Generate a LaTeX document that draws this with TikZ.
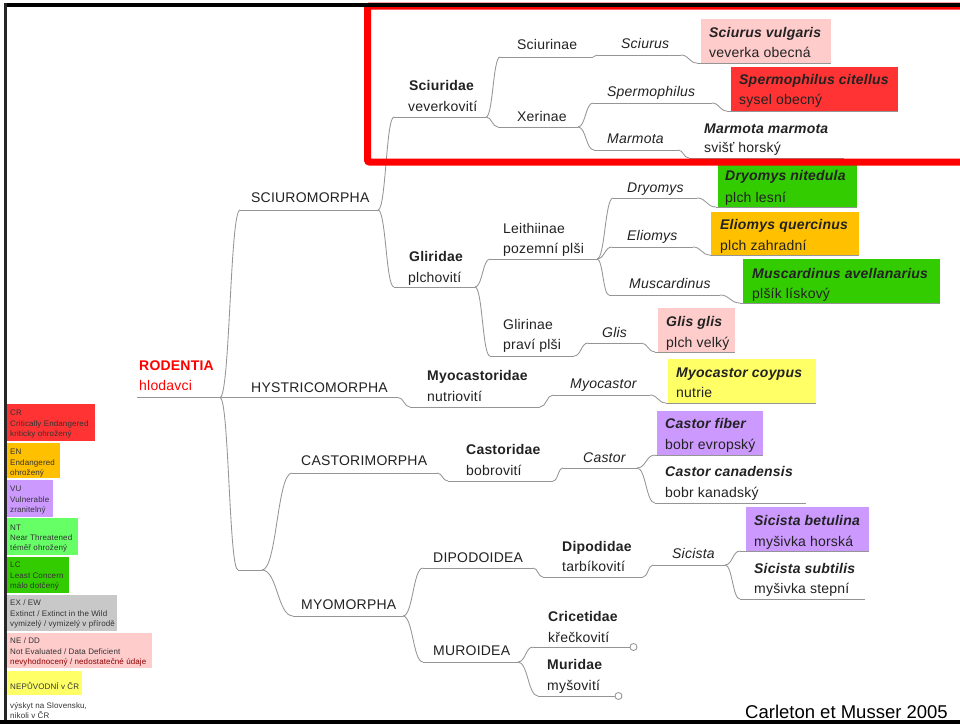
\documentclass[tikz,border=0pt]{standalone}
\usepackage{fontspec}
\setmainfont{Liberation Sans}[LetterSpace=1.5]
\newfontfamily\citefont{Liberation Sans}
\usetikzlibrary{calc}
\definecolor{txt}{HTML}{222222}
\definecolor{lnk}{HTML}{959595}
\definecolor{cCR}{HTML}{FF3333}
\definecolor{cEN}{HTML}{FFC000}
\definecolor{cVU}{HTML}{CC99FF}
\definecolor{cNT}{HTML}{66FF66}
\definecolor{cLC}{HTML}{33CC00}
\definecolor{cEX}{HTML}{C8C8C8}
\definecolor{cNE}{HTML}{FFCCCC}
\definecolor{cYE}{HTML}{FFFF66}
\definecolor{frame}{HTML}{FF0000}
\newcommand\mytn[4]{\coordinate (#1-s) at (#2,#4); \coordinate (#1-e) at (#3,#4); \draw[link] (#1-s) -- (#1-e);}
\newcommand\myconn[2]{\draw[link] let \p1=(#1-e), \p2=(#2-s), \p3=($(#1-e)!.5!(#2-s)$) in (#1-e) .. controls (\x3,\y1) and (\x3,\y2) .. (#2-s);}
\newcommand\mylab[5]{\node[#4] (#1) at (#2,#3+5) {#5};}
\newcommand\legline[3]{\node[leg] (#1) at (10,#2+3) {#3};}
\begin{document}
\begin{tikzpicture}[x=1pt,y=-1pt,
  link/.style={draw=lnk, line width=0.85pt},
  lbl/.style={anchor=base west, inner sep=0pt, text=txt, font=\fontsize{14}{16}\selectfont},
  bf/.style={lbl, font=\fontsize{14}{16}\selectfont\bfseries},
  it/.style={lbl, font=\fontsize{14}{16}\selectfont\itshape},
  bi/.style={lbl, font=\fontsize{14}{16}\selectfont\bfseries\itshape},
  leg/.style={anchor=base west, inner sep=0pt, text=black!80, font=\fontsize{8}{9}\selectfont}]
\useasboundingbox (0,0) rectangle (960,724);
\fill[white] (0,0) rectangle (960,724);

% ---------- legend ----------
\fill[cCR] (7,404) rectangle (95,441);
\legline{lcr1}{412}{CR}\legline{lcr2}{423}{Critically Endangered}\legline{lcr3}{433}{kriticky ohrožený}
\fill[cEN] (7,443) rectangle (60,478);
\legline{len1}{451}{EN}\legline{len2}{462}{Endangered}\legline{len3}{472}{ohrožený}
\fill[cVU] (7,480) rectangle (53,517);
\legline{lvu1}{488}{VU}\legline{lvu2}{499}{Vulnerable}\legline{lvu3}{509}{zranitelný}
\fill[cNT] (7,518) rectangle (78,555);
\legline{lnt1}{527}{NT}\legline{lnt2}{537}{Near Threatened}\legline{lnt3}{547}{téměř ohrožený}
\fill[cLC] (7,557) rectangle (69,593);
\legline{llc1}{564}{LC}\legline{llc2}{575}{Least Concern}\legline{llc3}{585}{málo dotčený}
\fill[cEX] (7,595) rectangle (117,631);
\legline{lex1}{602}{EX / EW}\legline{lex2}{613}{Extinct / Extinct in the Wild}\legline{lex3}{623}{vymizelý / vymizelý v přírodě}
\fill[cNE] (7,633) rectangle (152,668);
\legline{lne1}{640}{NE / DD}\legline{lne2}{651}{Not Evaluated / Data Deficient}
\node[leg, text=red!55!black] (lne3) at (10,661+3) {nevyhodnocený / nedostatečné údaje};
\fill[cYE] (7,671) rectangle (82,695);
\legline{lye1}{686}{NEPŮVODNÍ v ČR}
\legline{lsk1}{705}{výskyt na Slovensku,}\legline{lsk2}{715}{nikoli v ČR}

% ---------- coloured species boxes ----------
\fill[cNE] (701,19) rectangle (831,63);
\fill[cCR] (731,67) rectangle (898,111);
\fill[cLC] (718,164) rectangle (857,207);
\fill[cEN] (711,212) rectangle (859,255);
\fill[cLC] (743,259) rectangle (940,303);
\fill[cNE] (658,308) rectangle (735,352);
\fill[cYE] (668,359) rectangle (816,403);
\fill[cVU] (657,411) rectangle (763,455);
\fill[cVU] (746,507) rectangle (869,551);

% ---------- underlines ----------
\mytn{root}{137}{220}{397.5}
\mytn{scm}{240}{378}{210}
\mytn{hym}{222}{398}{397.5}
\mytn{hid}{238}{262}{570}
\mytn{cam}{292}{437}{473}
\mytn{mym}{293}{403}{616}
\mytn{scd}{394}{486}{117}
\mytn{gld}{394}{475}{287}
\mytn{scn}{500}{593}{57}
\mytn{xen}{498}{578}{127}
\mytn{scg}{597}{681}{55}
\mytn{scv}{697}{831}{63}
\mytn{spg}{593}{712}{103}
\mytn{spc}{727}{898}{111}
\mytn{mag}{594}{678}{150}
\mytn{mam}{689}{844}{158}
\mytn{lei}{490}{597}{259}
\mytn{gln}{490}{574}{356}
\mytn{drg}{613}{697}{198}
\mytn{drn}{716}{857}{207}
\mytn{elg}{612}{693}{247}
\mytn{elq}{710}{859}{255}
\mytn{mug}{609}{720}{295}
\mytn{mua}{740}{940}{303}
\mytn{glg}{588}{641}{343}
\mytn{glv}{655}{735}{352}
\mytn{myd}{410}{540}{407}
\mytn{myg}{553}{650}{395}
\mytn{myc}{666}{816}{403}
\mytn{cad}{448}{553}{481}
\mytn{cag}{563}{637}{468}
\mytn{caf}{655}{763}{455}
\mytn{cac}{655}{806}{503}
\mytn{dpa}{423}{533}{568}
\mytn{dpd}{543}{643}{577}
\mytn{sig}{653}{725}{565}
\mytn{sib}{740}{869}{551}
\mytn{sis}{740}{865}{599}
\mytn{mra}{423}{518}{662}
\mytn{crd}{533}{630}{647}
\mytn{mrd}{538}{615}{696}

% ---------- connectors ----------
\myconn{root}{scm}\myconn{root}{hym}\myconn{root}{hid}
\myconn{hid}{cam}\myconn{hid}{mym}
\myconn{scm}{scd}\myconn{scm}{gld}
\myconn{scd}{scn}\myconn{scd}{xen}
\myconn{scn}{scg}\myconn{scg}{scv}
\myconn{xen}{spg}\myconn{spg}{spc}\myconn{xen}{mag}\myconn{mag}{mam}
\myconn{gld}{lei}\myconn{gld}{gln}
\myconn{lei}{drg}\myconn{drg}{drn}\myconn{lei}{elg}\myconn{elg}{elq}\myconn{lei}{mug}\myconn{mug}{mua}
\myconn{gln}{glg}\myconn{glg}{glv}
\myconn{hym}{myd}\myconn{myd}{myg}\myconn{myg}{myc}
\myconn{cam}{cad}\myconn{cad}{cag}\myconn{cag}{caf}\myconn{cag}{cac}
\myconn{mym}{dpa}\myconn{mym}{mra}
\myconn{dpa}{dpd}\myconn{dpd}{sig}\myconn{sig}{sib}\myconn{sig}{sis}
\myconn{mra}{crd}\myconn{mra}{mrd}
\draw[link, fill=white] ($(crd-e)+(3.5,0)$) circle[radius=3.5pt];
\draw[link, fill=white] ($(mrd-e)+(3.5,0)$) circle[radius=3.5pt];

% ---------- labels ----------
\mylab{t-rod}{139}{365}{bf, text=frame}{RODENTIA}
\mylab{t-rod2}{139}{385}{lbl, text=frame}{hlodavci}
\mylab{t-scm}{251}{197}{lbl}{SCIUROMORPHA}
\mylab{t-hym}{251}{387}{lbl}{HYSTRICOMORPHA}
\mylab{t-cam}{301}{460}{lbl}{CASTORIMORPHA}
\mylab{t-mym}{301}{604}{lbl}{MYOMORPHA}
\mylab{t-scd}{409}{85}{bf}{Sciuridae}
\mylab{t-scd2}{408}{106}{lbl}{veverkovití}
\mylab{t-gld}{409}{256}{bf}{Gliridae}
\mylab{t-gld2}{408}{277}{lbl}{plchovití}
\mylab{t-scn}{517}{44}{lbl}{Sciurinae}
\mylab{t-xen}{517}{116}{lbl}{Xerinae}
\mylab{t-scg}{621}{43}{it}{Sciurus}
\mylab{t-spg}{607}{91}{it}{Spermophilus}
\mylab{t-mag}{607}{138}{it}{Marmota}
\mylab{t-scv}{709}{32}{bi}{Sciurus vulgaris}
\mylab{t-scv2}{709}{52}{lbl}{veverka obecná}
\mylab{t-spc}{739}{79}{bi}{Spermophilus citellus}
\mylab{t-spc2}{739}{99}{lbl}{sysel obecný}
\mylab{t-mam}{704}{128}{bi}{Marmota marmota}
\mylab{t-mam2}{704}{147}{lbl}{svišť horský}
\mylab{t-lei}{503}{228}{lbl}{Leithiinae}
\mylab{t-lei2}{503}{248}{lbl}{pozemní plši}
\mylab{t-gln}{503}{324}{lbl}{Glirinae}
\mylab{t-gln2}{503}{344}{lbl}{praví plši}
\mylab{t-drg}{627}{187}{it}{Dryomys}
\mylab{t-elg}{627}{235}{it}{Eliomys}
\mylab{t-mug}{629}{283}{it}{Muscardinus}
\mylab{t-glg}{602}{332}{it}{Glis}
\mylab{t-drn}{725}{175}{bi}{Dryomys nitedula}
\mylab{t-drn2}{725}{197}{lbl}{plch lesní}
\mylab{t-elq}{720}{224}{bi}{Eliomys quercinus}
\mylab{t-elq2}{720}{245}{lbl}{plch zahradní}
\mylab{t-mua}{752}{273}{bi}{Muscardinus avellanarius}
\mylab{t-mua2}{752}{293}{lbl}{plšík lískový}
\mylab{t-glv}{666}{321}{bi}{Glis glis}
\mylab{t-glv2}{666}{342}{lbl}{plch velký}
\mylab{t-myd}{427}{375}{bf}{Myocastoridae}
\mylab{t-myd2}{427}{396}{lbl}{nutriovití}
\mylab{t-myg}{570}{383}{it}{Myocastor}
\mylab{t-myc}{676}{372}{bi}{Myocastor coypus}
\mylab{t-myc2}{676}{392}{lbl}{nutrie}
\mylab{t-cad}{466}{449}{bf}{Castoridae}
\mylab{t-cad2}{466}{470}{lbl}{bobrovití}
\mylab{t-cag}{583}{457}{it}{Castor}
\mylab{t-caf}{665}{423}{bi}{Castor fiber}
\mylab{t-caf2}{665}{444}{lbl}{bobr evropský}
\mylab{t-cac}{665}{471}{bi}{Castor canadensis}
\mylab{t-cac2}{665}{492}{lbl}{bobr kanadský}
\mylab{t-dpa}{433}{557}{lbl}{DIPODOIDEA}
\mylab{t-mra}{433}{650}{lbl}{MUROIDEA}
\mylab{t-dpd}{562}{546}{bf}{Dipodidae}
\mylab{t-dpd2}{562}{566}{lbl}{tarbíkovití}
\mylab{t-sig}{672}{553}{it}{Sicista}
\mylab{t-sib}{754}{520}{bi}{Sicista betulina}
\mylab{t-sib2}{754}{541}{lbl}{myšivka horská}
\mylab{t-sis}{754}{568}{bi}{Sicista subtilis}
\mylab{t-sis2}{754}{588}{lbl}{myšivka stepní}
\mylab{t-crd}{548}{616}{bf}{Cricetidae}
\mylab{t-crd2}{548}{637}{lbl}{křečkovití}
\mylab{t-mrd}{547}{664}{bf}{Muridae}
\mylab{t-mrd2}{547}{685}{lbl}{myšovití}
\node[anchor=base west, inner sep=0pt, font=\citefont\fontsize{18.5}{20}\selectfont] (cite) at (745,718) {Carleton et Musser 2005};

% ---------- red highlight frame ----------
\draw[frame, line width=7pt, rounded corners=2pt] (975,6) -- (367.5,6) -- (367.5,162) -- (975,162);

% ---------- black slide border ----------
\fill[black] (3.5,3.3) rectangle (960,6.7);
\fill[black!85] (3.5,3.3) rectangle (6.5,724);
\fill[black] (0,720) rectangle (960,724);
\end{tikzpicture}
\end{document}
